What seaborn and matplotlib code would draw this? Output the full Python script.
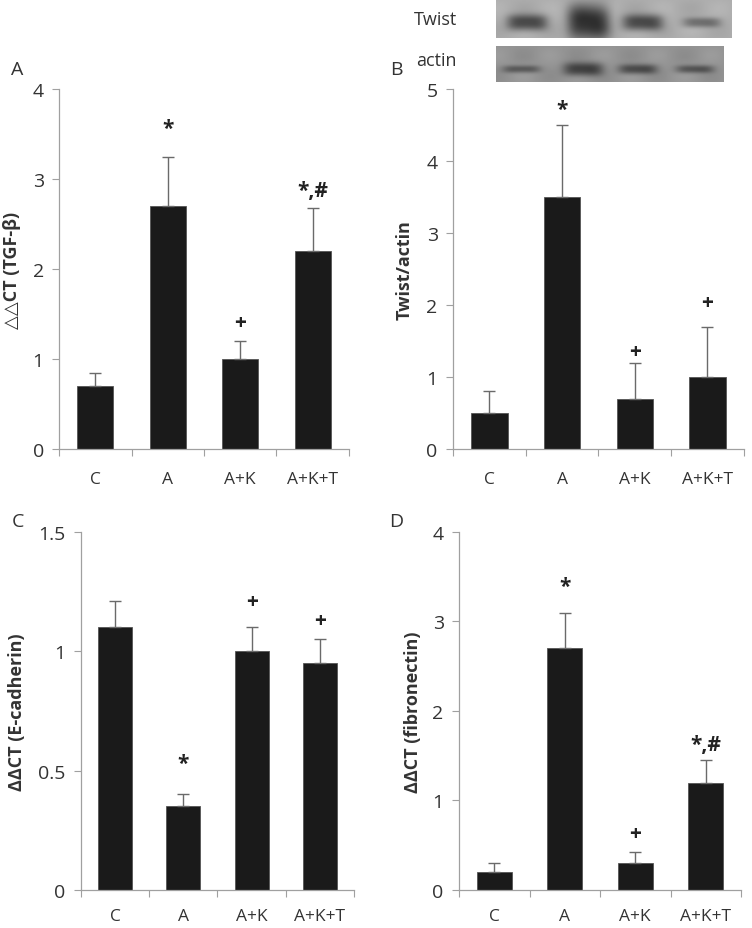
import numpy as np
import pandas as pd
import seaborn as sns
import matplotlib.pyplot as plt

groups = ["C", "A", "A+K", "A+K+T"]

# panel A: TGF-beta
tgf_mean = [0.7, 2.7, 1.0, 2.2]
tgf_err = [0.15, 0.55, 0.2, 0.48]
tgf_marks = ["", "*", "+", "*,#"]
tgf_mark_y = [0, 3.56, 1.41, 2.87]

# panel B: Twist/actin
twist_mean = [0.5, 3.5, 0.7, 1.0]
twist_err = [0.3, 1.0, 0.5, 0.7]
twist_marks = ["", "*", "+", "+"]
twist_mark_y = [0, 4.72, 1.36, 2.03]

# panel C: E-cadherin
ecad_mean = [1.1, 0.35, 1.0, 0.95]
ecad_err = [0.11, 0.05, 0.1, 0.1]
ecad_marks = ["", "*", "+", "+"]
ecad_mark_y = [0, 0.53, 1.21, 1.13]

# panel D: fibronectin
fib_mean = [0.2, 2.7, 0.3, 1.2]
fib_err = [0.1, 0.4, 0.12, 0.25]
fib_marks = ["", "*", "+", "*,#"]
fib_mark_y = [0, 3.39, 0.63, 1.62]

# western blot band strengths, lanes C, A, A+K, A+K+T
twist_band = [0.8, 1.0, 0.8, 0.5]
actin_band = [0.6, 0.85, 0.75, 0.65]

sns.set_style("white")
plt.rcParams["font.family"] = ["Open Sans", "DejaVu Sans"]

GRAY = "#a0a0a0"
TXT = "#333333"

fig = plt.figure(figsize=(7.52, 9.29), dpi=100)


def panel(rect, means, errs, marks, mark_y, ymax, yticks, ylabel, labx, xpad):
    ax = fig.add_axes(rect)
    df = pd.DataFrame({"group": groups, "value": means})
    sns.barplot(data=df, x="group", y="value", color="#1a1a1a", width=0.5,
                edgecolor="#555555", linewidth=0.6, saturation=1, ax=ax)
    ax.errorbar(range(len(groups)), means, yerr=[np.zeros(len(errs)), errs],
                fmt="none", ecolor="#6a6a6a", elinewidth=1.0, capsize=4,
                capthick=1.0)
    for i, (m, y) in enumerate(zip(marks, mark_y)):
        if m:
            ax.text(i, y, m, ha="center", va="center", fontsize=15,
                    fontweight="bold", color="#222222")
    ax.set_xlim(-0.5, 3.5)
    ax.set_ylim(0, ymax)
    ax.set_yticks(yticks)
    ax.set_yticklabels(["{:g}".format(t) for t in yticks])
    ax.set_xticks(range(len(groups)))
    ax.set_xticks(np.arange(-0.5, 4, 1), minor=True)
    ax.tick_params(axis="x", which="major", length=0, pad=xpad,
                   labelsize=12.5, labelcolor=TXT)
    ax.tick_params(axis="x", which="minor", length=5, width=0.8,
                   color=GRAY, direction="out", bottom=True)
    ax.tick_params(axis="y", length=5, width=0.8, color=GRAY,
                   direction="out", left=True, pad=6, labelsize=14,
                   labelcolor=TXT)
    for s in ["top", "right"]:
        ax.spines[s].set_visible(False)
    for s in ["left", "bottom"]:
        ax.spines[s].set_color(GRAY)
        ax.spines[s].set_linewidth(0.9)
    ax.set_xlabel("")
    ax.set_ylabel(ylabel, fontsize=13, fontweight="bold", color=TXT,
                  va="center")
    ax.yaxis.set_label_coords(labx, 0.5)
    return ax


panel([0.0785, 0.5156, 0.3855, 0.3875], tgf_mean, tgf_err, tgf_marks,
      tgf_mark_y, 4, [0, 1, 2, 3, 4], "△△CT (TGF-β)", -0.162, 16)
panel([0.6024, 0.5156, 0.3866, 0.3875], twist_mean, twist_err, twist_marks,
      twist_mark_y, 5, [0, 1, 2, 3, 4, 5], "Twist/actin", -0.168, 16)
panel([0.1077, 0.0410, 0.3630, 0.3853], ecad_mean, ecad_err, ecad_marks,
      ecad_mark_y, 1.5, [0, 0.5, 1, 1.5], "ΔΔCT (E-cadherin)", -0.234, 13)
panel([0.6104, 0.0410, 0.3750, 0.3853], fib_mean, fib_err, fib_marks,
      fib_mark_y, 4, [0, 1, 2, 3, 4], "ΔΔCT (fibronectin)", -0.163, 13)

# panel letters
for x, y, s in [(11, 70, "A"), (390, 70, "B"), (12, 522, "C"), (389, 522, "D")]:
    fig.text(x / 752, 1 - y / 929, s, fontsize=14, color=TXT,
             ha="left", va="center")


# western blot strips
def blot(rect, bands, centers, bg, yc, spread, label, laby):
    ax = fig.add_axes(rect)
    h, w = 40, 240
    yy, xx = np.mgrid[0:h, 0:w]
    img = np.full((h, w), bg) + 0.03 * np.cos(xx / 9.0) * np.sin(yy / 7.0)
    for c, b in zip(centers, bands):
        sx = 0.085 * w * (0.85 + 0.2 * b)
        sy = spread * h * (0.6 + 1.6 * b ** 6)
        g = np.exp(-((xx - c * w) / sx) ** 4 - np.abs((yy - yc * h) / sy) ** 2.5)
        img -= (bg - 0.18) * b * g
    ax.imshow(np.clip(img, 0, 1), cmap="gray", vmin=0, vmax=1,
              aspect="auto", interpolation="bilinear")
    ax.set_xticks([])
    ax.set_yticks([])
    for s in ax.spines.values():
        s.set_visible(False)
    fig.text(436 / 752, 1 - laby / 929, label, fontsize=13, color=TXT,
             ha="center", va="center")


blot([0.6596, 0.958, 0.3138, 0.042], twist_band, [0.13, 0.39, 0.62, 0.87],
     0.68, 0.6, 0.2, "Twist", 20)
blot([0.6596, 0.9107, 0.3019, 0.0388], actin_band, [0.11, 0.38, 0.62, 0.87],
     0.58, 0.64, 0.15, "actin", 61)

fig.savefig("out.png", dpi=100)
